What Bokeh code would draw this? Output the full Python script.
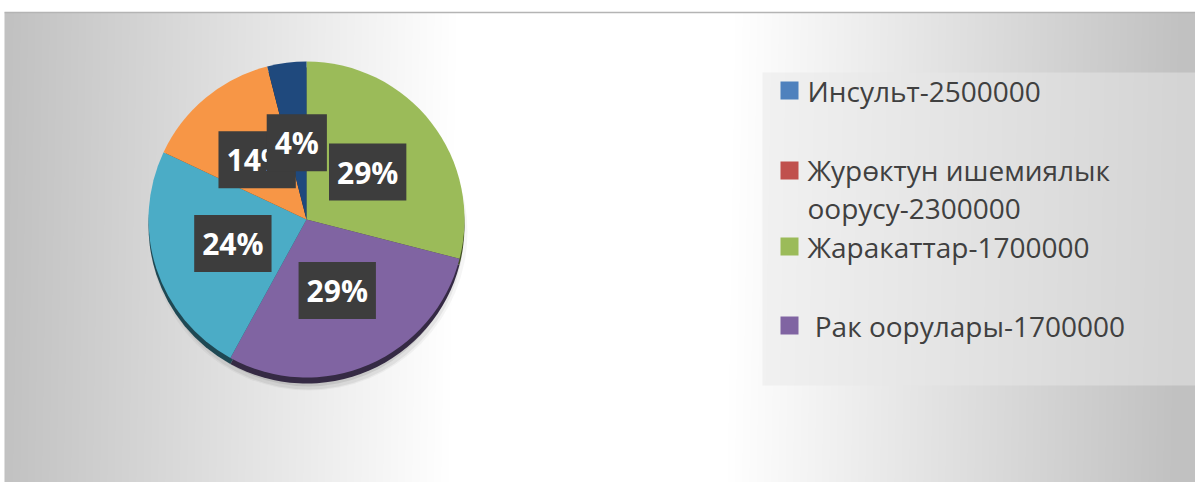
import numpy as np
from bokeh.plotting import figure
from bokeh.models import ColumnDataSource, Range1d
from bokeh.embed import file_html
from bokeh.resources import INLINE
from bokeh.core.properties import value

# ---- data ----
slice_shares = [29, 29, 24, 14, 4]
slice_labels = ["29%", "29%", "24%", "14%", "4%"]
slice_colors = ["#9BBB59", "#8064A2", "#4BACC6", "#F79646", "#1F497D"]
legend_labels = ["Инсульт-2500000", "Журөктун ишемиялык\nоорусу-2300000",
                 "Жаракаттар-1700000", "\u00a0Рак оорулары-1700000"]
legend_colors = ["#4F81BD", "#C0504D", "#9BBB59", "#8064A2"]

# ---- layout ----
W, H = 1195, 482
TOP = 470
LEFT = 4
CX, CY, R = 306, 263, 158
LEG_X0, LEG_X1, LEG_Y0, LEG_Y1 = 762, 1195, 97, 410
LEG_TEXT_Y = [392, 294, 236, 157]
LEG_LINES = [1, 2, 1, 1]
LINE_PX = 36

p = figure(width=W, height=H, x_range=Range1d(0, W), y_range=Range1d(0, H),
           output_backend="svg", toolbar_location=None, min_border=0)
p.axis.visible = False
p.grid.visible = False
p.outline_line_color = None
p.background_fill_color = "white"
p.border_fill_color = "white"

# background gradient (grey edges, white middle)
GW = W - LEFT
xs = np.arange(GW) + LEFT
img = np.zeros((TOP, GW), dtype=np.uint32)
view = img.view(dtype=np.uint8).reshape((TOP, GW, 4))
for j in range(TOP):
    c = 595 - 8 * (1 - j / TOP)
    d = np.abs(xs - c)
    v = 255 - 62 * np.clip((d - 140) / 450, 0, 1)
    view[j, :, 0] = v
    view[j, :, 1] = v
    view[j, :, 2] = v
    view[j, :, 3] = 255
p.image_rgba(image=[img], x=LEFT, y=0, dw=GW, dh=TOP)
p.segment(x0=LEFT, y0=TOP, x1=W, y1=TOP, line_color="#b4b4b4", line_width=1.5)

# pie geometry
shares = np.array(slice_shares, dtype=float)
frac = shares / shares.sum()
cum = np.concatenate([[0], np.cumsum(frac)])
starts = np.pi / 2 - 2 * np.pi * cum[:-1]
ends = np.pi / 2 - 2 * np.pi * cum[1:]

def darken(hx, f):
    r, g, b = int(hx[1:3], 16), int(hx[3:5], 16), int(hx[5:7], 16)
    return "#%02x%02x%02x" % (int(r * f), int(g * f), int(b * f))

# soft shadow below the pie
for rr, a, dy in [(R + 1, 0.04, 12), (R - 3, 0.06, 15), (R - 8, 0.08, 17), (R - 14, 0.08, 18)]:
    p.circle(x=CX + 2, y=CY - dy, radius=rr, fill_color="black", fill_alpha=a, line_color=None)

# 3D rim
rim = ColumnDataSource(dict(start=starts, end=ends, color=[darken(c, 0.42) for c in slice_colors]))
p.wedge(x=CX, y=CY - 6, radius=R, start_angle="start", end_angle="end", direction="clock",
        fill_color="color", line_color=None, source=rim)

src = ColumnDataSource(dict(start=starts, end=ends, color=slice_colors))
p.wedge(x=CX, y=CY, radius=R, start_angle="start", end_angle="end", direction="clock",
        fill_color="color", line_color=None, source=src)

# labels
mid = (cum[:-1] + cum[1:]) / 2
th = np.pi / 2 - 2 * np.pi * mid
lx = CX + 0.49 * R * np.cos(th)
ly = CY + 0.49 * R * np.sin(th)
lab = ColumnDataSource(dict(x=lx, y=ly, t=slice_labels))
p.text(x="x", y="y", text="t", source=lab, text_color="white",
       text_font=value("Open Sans"), text_font_style="bold", text_font_size="30px",
       text_align="center", text_baseline="middle",
       background_fill_color="#3d3d3d", padding=8)

# legend
p.quad(left=LEG_X0, right=LEG_X1, bottom=LEG_Y0, top=LEG_Y1,
       fill_color="#e8e8e8", fill_alpha=0.5, line_color=None)
sq_y = [y + (n - 1) * LINE_PX / 2 for y, n in zip(LEG_TEXT_Y, LEG_LINES)]
p.rect(x=[789] * 4, y=sq_y, width=18, height=18, fill_color=legend_colors, line_color=None)
p.text(x=[807] * 4, y=LEG_TEXT_Y, text=legend_labels, text_color="#404040",
       text_font=value("Open Sans"), text_font_size="28px",
       text_align="left", text_baseline="middle", text_line_height=1.0)

open("out.html", "w").write(file_html(p, INLINE))
